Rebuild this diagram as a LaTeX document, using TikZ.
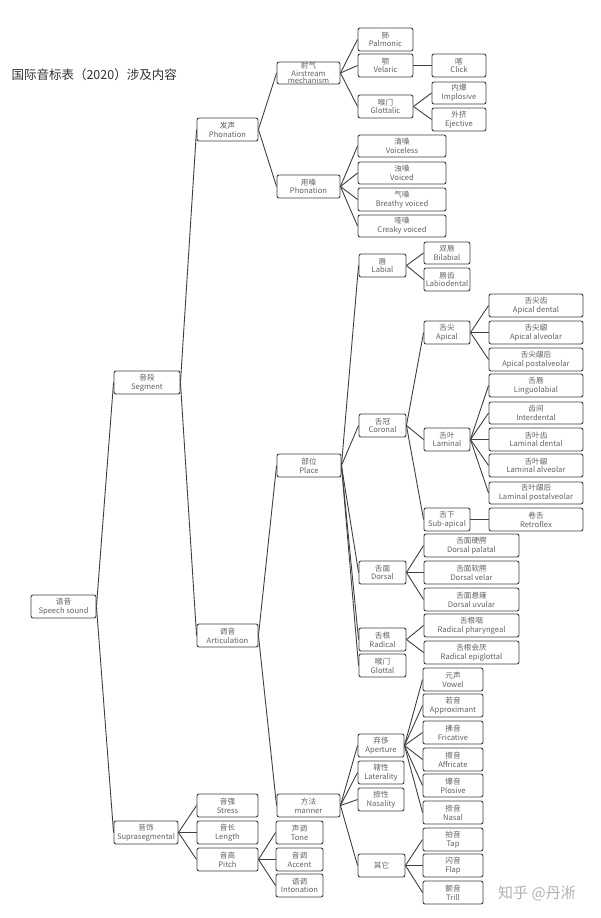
\documentclass[tikz,border=0pt]{standalone}
\usepackage{fontspec}
\setmainfont{Noto Sans CJK SC}
\begin{document}
\begin{tikzpicture}[x=1pt,y=-1pt,
  box/.style={draw=black!75, line width=0.9pt, rounded corners=2pt, inner sep=0pt,
    text=black!62, align=center, font=\fontsize{7.6}{8.7}\selectfont},
  edge/.style={draw=black!75, line width=0.9pt}]
\newcommand\bx[6]{\node[box, minimum width={(#4-#2)*1pt}, minimum height={(#5-#3)*1pt}] (#1) at ({(#2+#4)/2},{(#3+#5)/2}) {#6};}
\useasboundingbox[fill=white] (0,0) rectangle (600,918);
\node[anchor=west, font=\fontsize{12.5}{14}\selectfont, text=black!80] (title) at (8,75) {国际音标表（2020）涉及内容};
\bx{phon}{197}{118}{258}{141}{发声\\Phonation}
\node[box, minimum width=63pt, minimum height=22pt, font=\fontsize{7.6}{7.6}\selectfont] (air) at (308.5,73) {射气\\Airstream\\mechanism};
\bx{palm}{358}{28}{413}{51}{肺\\Palmonic}
\bx{vel}{358}{54}{413}{77}{颚\\Velaric}
\bx{glc}{358}{95}{413}{118}{喉门\\Glottalic}
\bx{click}{432}{54}{486}{77}{喀\\Click}
\bx{impl}{432}{82}{486}{104}{内爆\\Implosive}
\bx{ejec}{432}{108}{486}{131}{外挤\\Ejective}
\bx{voic}{277}{175}{340}{198}{用嗓\\Phonation}
\bx{vl}{358}{135}{446}{157}{清嗓\\Voiceless}
\bx{vd}{358}{162}{446}{184}{浊嗓\\Voiced}
\bx{br}{358}{188}{446}{211}{气嗓\\Breathy voiced}
\bx{cr}{358}{215}{446}{237}{哑嗓\\Creaky voiced}
\bx{seg}{114}{371}{180}{394}{音段\\Segment}
\bx{speech}{31}{595}{96}{618}{语音\\Speech sound}
\bx{art}{197}{624}{258}{647}{调音\\Articulation}
\bx{place}{277}{454}{341}{477}{部位\\Place}
\bx{lab}{359}{254}{406}{277}{唇\\Labial}
\bx{bilab}{424}{242}{470}{264}{双唇\\Bilabial}
\bx{labdent}{424}{268}{470}{291}{唇齿\\Labiodental}
\bx{cor}{359}{414}{406}{437}{舌冠\\Coronal}
\bx{apic}{424}{321}{470}{344}{舌尖\\Apical}
\bx{apd}{489}{294}{583}{317}{舌尖齿\\Apical dental}
\bx{apa}{489}{321}{583}{344}{舌尖龈\\Apical alveolar}
\bx{app}{489}{348}{583}{371}{舌尖龈后\\Apical postalveolar}
\bx{lam}{424}{428}{470}{451}{舌叶\\Laminal}
\bx{ll}{489}{374}{583}{397}{舌唇\\Linguolabial}
\bx{id}{489}{402}{583}{424}{齿间\\Interdental}
\bx{lmd}{489}{428}{583}{451}{舌叶齿\\Laminal dental}
\bx{lma}{489}{454}{583}{477}{舌叶龈\\Laminal alveolar}
\bx{lmp}{489}{482}{583}{504}{舌叶龈后\\Laminal postalveolar}
\bx{sub}{424}{508}{470}{531}{舌下\\Sub-apical}
\bx{retro}{489}{508}{583}{531}{卷舌\\Retroflex}
\bx{dor}{359}{561}{406}{584}{舌面\\Dorsal}
\bx{dp}{424}{534}{519}{557}{舌面硬腭\\Dorsal palatal}
\bx{dv}{424}{561}{519}{584}{舌面软腭\\Dorsal velar}
\bx{du}{424}{588}{519}{611}{舌面悬雍\\Dorsal uvular}
\bx{rad}{359}{628}{406}{651}{舌根\\Radical}
\bx{rp}{424}{614}{519}{637}{舌根咽\\Radical pharyngeal}
\bx{re}{424}{641}{519}{664}{舌根会厌\\Radical epiglottal}
\bx{glot}{359}{654}{406}{677}{喉门\\Glottal}
\bx{man}{277}{794}{340}{817}{方法\\manner}
\bx{ape}{358}{734}{404}{757}{弃侈\\Aperture}
\bx{lat}{358}{761}{404}{784}{辖性\\Laterality}
\bx{nas}{358}{788}{404}{811}{捺性\\Nasality}
\bx{oth}{358}{854}{405}{877}{其它}
\bx{vow}{423}{668}{483}{691}{元声\\Vowel}
\bx{appr}{423}{694}{483}{717}{若音\\Approximant}
\bx{fric}{423}{721}{483}{744}{拂音\\Fricative}
\bx{affr}{423}{748}{483}{771}{擦音\\Affricate}
\bx{plos}{423}{774}{483}{797}{爆音\\Plosive}
\bx{nasal}{423}{801}{483}{824}{捺音\\Nasal}
\bx{tap}{423}{828}{483}{851}{拍音\\Tap}
\bx{flap}{423}{854}{483}{877}{闪音\\Flap}
\bx{trill}{423}{881}{483}{904}{颤音\\Trill}
\bx{supra}{114}{821}{178}{844}{音饰\\Suprasegmental}
\bx{stress}{197}{794}{258}{817}{音强\\Stress}
\bx{len}{197}{821}{258}{844}{音长\\Length}
\bx{pitch}{197}{848}{258}{871}{音高\\Pitch}
\bx{tone}{276}{821}{323}{844}{声调\\Tone}
\bx{acc}{276}{848}{323}{871}{音调\\Accent}
\bx{inton}{276}{874}{323}{897}{语调\\Intonation}
\node[text=black!30, font=\fontsize{15}{17}\selectfont] (wm) at (537,893) {知乎 @丹淅};
\foreach \p/\c in {speech/seg, speech/supra, seg/phon, seg/art,
  phon/air, phon/voic, air/palm, air/vel, air/glc, vel/click, glc/impl, glc/ejec,
  voic/vl, voic/vd, voic/br, voic/cr,
  art/place, art/man,
  place/lab, place/cor, place/dor, place/rad, place/glot,
  lab/bilab, lab/labdent, cor/apic, cor/lam, cor/sub,
  apic/apd, apic/apa, apic/app,
  lam/ll, lam/id, lam/lmd, lam/lma, lam/lmp, sub/retro,
  dor/dp, dor/dv, dor/du, rad/rp, rad/re,
  man/ape, man/lat, man/nas, man/oth,
  ape/vow, ape/appr, ape/fric, ape/affr, ape/plos, ape/nasal,
  oth/tap, oth/flap, oth/trill,
  supra/stress, supra/len, supra/pitch,
  pitch/tone, pitch/acc, pitch/inton}
  \draw[edge] (\p.east) -- (\c.west);
\end{tikzpicture}
\end{document}
